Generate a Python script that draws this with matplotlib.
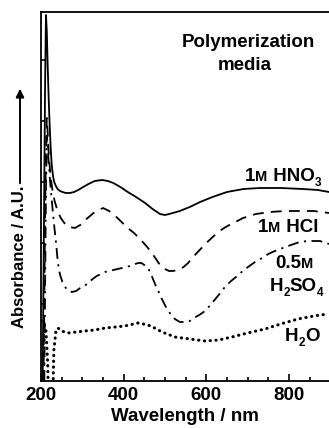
import matplotlib
matplotlib.use("Agg")
import matplotlib.pyplot as plt
from matplotlib.ticker import MultipleLocator

# wavelength (nm) and absorbance (arbitrary units)
hno3_nm = [204, 206, 208, 210, 212, 214, 216, 218, 220, 222, 224, 226, 229, 232, 236,
           240, 246, 252, 260, 270, 280, 290, 302, 315, 330, 348, 362, 375, 392, 410,
           430, 452, 470, 488, 500, 510, 519, 536, 560, 585, 615, 650, 690, 730, 780,
           834, 870, 897]
hno3_abs = [0, 100, 200, 300, 366, 350, 318, 290, 266, 246, 229, 216, 205, 199, 195,
            192, 190, 189, 188, 188, 189, 191, 194, 197, 200, 201, 200, 198, 194, 189,
            184, 178, 172, 167, 166, 167, 168, 170, 174, 179, 184, 189, 192, 193, 193,
            192, 191, 189]

hcl_nm = [206, 208, 210, 212, 214, 216, 218, 221, 224, 228, 233, 238, 242, 248, 253,
          260, 268, 282, 295, 310, 330, 350, 365, 380, 395, 410, 425, 440, 459, 475,
          488, 500, 510, 519, 532, 545, 556, 568, 584, 600, 613, 626, 643, 660, 675,
          689, 705, 720, 737, 754, 790, 826, 860, 897]
hcl_abs = [0, 80, 170, 230, 263, 250, 232, 215, 202, 190, 180, 173, 168, 163, 160,
           156, 154, 153, 156, 162, 169, 173, 170, 165, 159, 153, 148, 142, 133, 124,
           116, 112, 110, 110, 111, 114, 118, 124, 131, 138, 143, 148, 153, 157, 160,
           163, 165, 167, 168, 169, 170, 170, 170, 168]

h2so4_nm = [208, 210, 212, 214, 216, 218, 221, 224, 228, 232, 236, 240, 243, 247, 252,
            260, 267, 275, 285, 295, 305, 314, 325, 335, 345, 355, 375, 396, 415, 435,
            443, 450, 459, 465, 471, 477, 483, 489, 495, 501, 507, 515, 524, 536, 548,
            560, 570, 583, 597, 610, 620, 632, 645, 660, 675, 688, 701, 718, 735, 750,
            766, 785, 805, 826, 846, 875, 897]
h2so4_abs = [0, 100, 190, 245, 238, 222, 205, 190, 172, 155, 140, 122, 112, 105, 99,
             93, 90, 89, 90, 93, 95, 98, 102, 105, 107, 109, 111, 113, 115, 118,
             118, 116, 113, 108, 102, 96, 91, 85, 80, 75, 71, 66, 62, 59, 59,
             60, 63, 66, 70, 76, 81, 87, 94, 100, 105, 110, 114, 119, 123, 127,
             130, 133, 136, 139, 140, 140, 137]

h2o_nm = [200, 207, 212, 216, 219, 228, 231, 236, 241, 250, 265, 285, 306, 330, 355,
          380, 403, 435, 459, 475, 493, 524, 560, 597, 630, 662, 700, 742, 780, 822,
          860, 894]
h2o_abs = [60, 58, 50, 20, -30, -30, 30, 50, 53, 50, 48, 49, 50, 51, 53,
           54, 55, 58, 56, 53, 49, 44, 42, 40, 41, 44, 48, 52, 57, 62,
           65, 67]

plt.rcParams['font.family'] = ['Liberation Sans', 'DejaVu Sans']
plt.rcParams['font.weight'] = 'bold'

fig = plt.figure(figsize=(3.29, 4.28), dpi=100)
ax = fig.add_axes([41 / 329, 1 - 381 / 428, 1 - 41 / 329, 369 / 428])

ax.plot(hno3_nm, hno3_abs, color='black', lw=1.3, linestyle='-')
ax.plot(hcl_nm, hcl_abs, color='black', lw=1.3, linestyle=(0, (6, 4)))
ax.plot(h2so4_nm, h2so4_abs, color='black', lw=1.3, linestyle=(0, (6, 3, 1.2, 3)))
ax.plot(h2o_nm, h2o_abs, color='black', lw=2.2, linestyle=(0, (0.1, 1.8)),
        dash_capstyle='round')

ax.set_xlim(200, 897)
ax.set_ylim(0, 369)
ax.xaxis.set_major_locator(MultipleLocator(200))
ax.xaxis.set_minor_locator(MultipleLocator(50))
ax.set_yticks([16, 77, 138, 199, 260, 321])
ax.set_yticklabels([])
ax.tick_params(direction='in', width=1.2, labelsize=13.5, pad=4)
ax.tick_params(axis='x', which='major', length=5)
ax.tick_params(axis='x', which='minor', length=3, width=1.2, direction='in')
ax.tick_params(axis='y', length=3)
for lbl in ax.get_xticklabels():
    lbl.set_fontweight('bold')
for side in ['left', 'bottom', 'top']:
    ax.spines[side].set_linewidth(1.3)
ax.spines['right'].set_visible(False)

ax.set_xlabel('Wavelength / nm', fontsize=13.5, fontweight='bold', labelpad=3)

# y label with arrow
fig.text(20 / 329, 1 - 257 / 428, 'Absorbance / A.U.', rotation=90, ha='center',
         va='center', fontsize=12, fontweight='bold')
ax.annotate('', xy=(20, 428 - 86), xytext=(20, 428 - 186), xycoords='figure pixels',
            textcoords='figure pixels',
            arrowprops=dict(arrowstyle='-|>', lw=1.4, color='black', mutation_scale=12))

fs = 13.5
ax.text(703, 334, 'Polymerization', ha='center', va='baseline', fontsize=fs, fontweight='bold')
ax.text(694, 311, 'media', ha='center', va='baseline', fontsize=fs, fontweight='bold')

renderer = fig.canvas.get_renderer()


def chem_label(x, y, parts):
    # n = normal, m = small capital M, s = subscript
    px, py = ax.transData.transform((x, y))
    for s, kind in parts:
        size, dy = {'n': (fs, 0), 'm': (10.5, 0), 's': (8.5, -5)}[kind]
        t = fig.text(px / fig.bbox.width, (py + dy) / fig.bbox.height, s, fontsize=size,
                     fontweight='bold', ha='left', va='baseline')
        px += t.get_window_extent(renderer).width


chem_label(694, 200, [('1', 'n'), ('M', 'm'), (' HNO', 'n'), ('3', 's')])
chem_label(725, 149, [('1', 'n'), ('M', 'm'), (' HCl', 'n')])
chem_label(766, 113, [('0.5', 'n'), ('M', 'm')])
chem_label(754, 90, [('H', 'n'), ('2', 's'), ('SO', 'n'), ('4', 's')])
chem_label(790, 40, [('H', 'n'), ('2', 's'), ('O', 'n')])

fig.savefig('out.png', dpi=100)
